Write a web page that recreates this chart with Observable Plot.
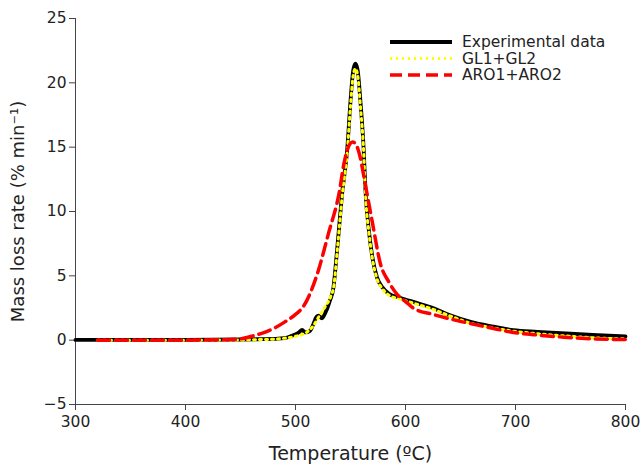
<!DOCTYPE html>
<html>
<head>
<meta charset="utf-8">
<script src="https://cdn.jsdelivr.net/npm/d3@7"></script>
<script src="https://cdn.jsdelivr.net/npm/@observablehq/plot@0.6"></script>
<style>
  html, body { margin: 0; padding: 0; background: #fff; }
  #wrap { position: relative; width: 640px; height: 464px; }
  #legend { position: absolute; left: 386px; top: 30px; }
  g[aria-label="x-axis label"] text { font-size: 19px; }
  g[aria-label="y-axis label"] text { font-size: 18px; }
</style>
</head>
<body>
<div id="wrap"></div>
<script>
// ---- data ----
const xTicks = [300, 400, 500, 600, 700, 800];
const yTicks = [-5, 0, 5, 10, 15, 20, 25];
const seriesNames = ["Experimental data", "GL1+GL2", "ARO1+ARO2"];

const expT = [300,320,350,400,450,470,480,490,497,503,506,509,513,516,519,521,524,527,531,534.5,538,542.7,547,550,552.5,554.5,556.5,559,562,563.6,567,570,574,579,585,595,610,625,640,660,680,698,720,750,780,800];
const expV = [0.02,0.02,0.02,0.03,0.05,0.08,0.1,0.15,0.35,0.6,0.8,0.6,0.7,1.2,1.8,1.9,1.7,2.1,3.0,4.1,7.2,11.65,14.8,18.6,21,21.5,21,18.6,14.8,11.65,8.3,6.4,4.9,4.1,3.6,3.3,2.9,2.5,1.95,1.4,1.05,0.78,0.65,0.5,0.38,0.3];

const glT = [320,400,450,480,490,500,510,516,521,527,532,535,538,542.7,547,550,552.5,554.5,556.5,559,562,563.6,567,570,574,579,585,595,610,625,640,660,680,698,720,750,780,800];
const glV = [0.0,0.0,0.02,0.08,0.15,0.3,0.6,1.1,1.8,2.6,3.4,4.3,7.0,11.4,14.6,18.2,20.6,21.1,20.6,18.2,14.6,11.4,8.2,6.3,4.8,4.0,3.5,3.2,2.8,2.4,1.9,1.3,0.95,0.7,0.5,0.3,0.15,0.1];

const aroT = [320,400,440,450,460,470,480,490,500,507,520,530,540,544,548,552,555,558,562,565,570,577,585,592,600,607,625,653,675,698,720,744,770,800];
const aroV = [0.0,0.0,0.05,0.1,0.3,0.55,0.9,1.4,2.0,2.6,5.2,8.3,11.6,13.7,15.0,15.4,15.2,14.5,12.8,11.4,9.1,6.0,4.5,3.6,3.0,2.5,2.0,1.4,1.0,0.6,0.4,0.23,0.1,0.05];

const toRows = (T, V) => T.map((t, i) => ({T: t, v: V[i]}));
const expData = toRows(expT, expV);
const glData = toRows(glT, glV);
const aroData = toRows(aroT, aroV);

const styles = [
  {stroke: "#000000", strokeWidth: 3.8, dash: null},
  {stroke: "#ffff00", strokeWidth: 3, dash: "2,4"},
  {stroke: "#ff0000", strokeWidth: 3.5, dash: "12,6"}
];

const chart = Plot.plot({
  width: 640,
  height: 464,
  marginLeft: 75,
  marginRight: 15,
  marginTop: 18,
  marginBottom: 60,
  style: {fontFamily: "DejaVu Sans", fontSize: "15.5px", background: "#fff", color: "#222"},
  x: {domain: [300, 800]},
  y: {domain: [-5, 25]},
  marks: [
    Plot.axisX({ticks: xTicks, tickSize: 6, tickPadding: 5, stroke: "#444",
      label: "Temperature (ºC)", labelAnchor: "center", labelArrow: "none", labelOffset: 55}),
    Plot.axisY({ticks: yTicks, tickSize: 6, tickPadding: 3, stroke: "#444",
      label: "Mass loss rate (% min⁻¹)", labelAnchor: "center", labelArrow: "none", labelOffset: 64}),
    Plot.ruleX([300], {y1: -5, y2: 25, stroke: "#444"}),
    Plot.ruleY([-5], {x1: 300, x2: 800, stroke: "#444"}),
    Plot.line(expData, {x: "T", y: "v", stroke: styles[0].stroke, strokeWidth: styles[0].strokeWidth, curve: "monotone-x"}),
    Plot.line(glData, {x: "T", y: "v", stroke: styles[1].stroke, strokeWidth: styles[1].strokeWidth, strokeDasharray: styles[1].dash, curve: "monotone-x"}),
    Plot.line(aroData, {x: "T", y: "v", stroke: styles[2].stroke, strokeWidth: styles[2].strokeWidth, strokeDasharray: styles[2].dash, curve: "monotone-x"})
  ]
});

const wrap = document.getElementById("wrap");
wrap.appendChild(chart);

// legend
const legend = document.createElement("div");
legend.id = "legend";
const ns = "http://www.w3.org/2000/svg";
const svg = document.createElementNS(ns, "svg");
svg.setAttribute("width", 250);
svg.setAttribute("height", 56);
seriesNames.forEach((name, i) => {
  const y = 12 + i * 16.5;
  const ln = document.createElementNS(ns, "line");
  ln.setAttribute("x1", 4); ln.setAttribute("x2", 66);
  ln.setAttribute("y1", y); ln.setAttribute("y2", y);
  ln.setAttribute("stroke", styles[i].stroke);
  ln.setAttribute("stroke-width", styles[i].strokeWidth);
  if (styles[i].dash) ln.setAttribute("stroke-dasharray", styles[i].dash);
  svg.appendChild(ln);
  const tx = document.createElementNS(ns, "text");
  tx.setAttribute("x", 76); tx.setAttribute("y", y);
  tx.setAttribute("dy", "0.35em");
  tx.setAttribute("font-family", "DejaVu Sans");
  tx.setAttribute("font-size", 15.5);
  tx.setAttribute("fill", "#222");
  tx.textContent = name;
  svg.appendChild(tx);
});
legend.appendChild(svg);
wrap.appendChild(legend);
</script>
</body>
</html>
